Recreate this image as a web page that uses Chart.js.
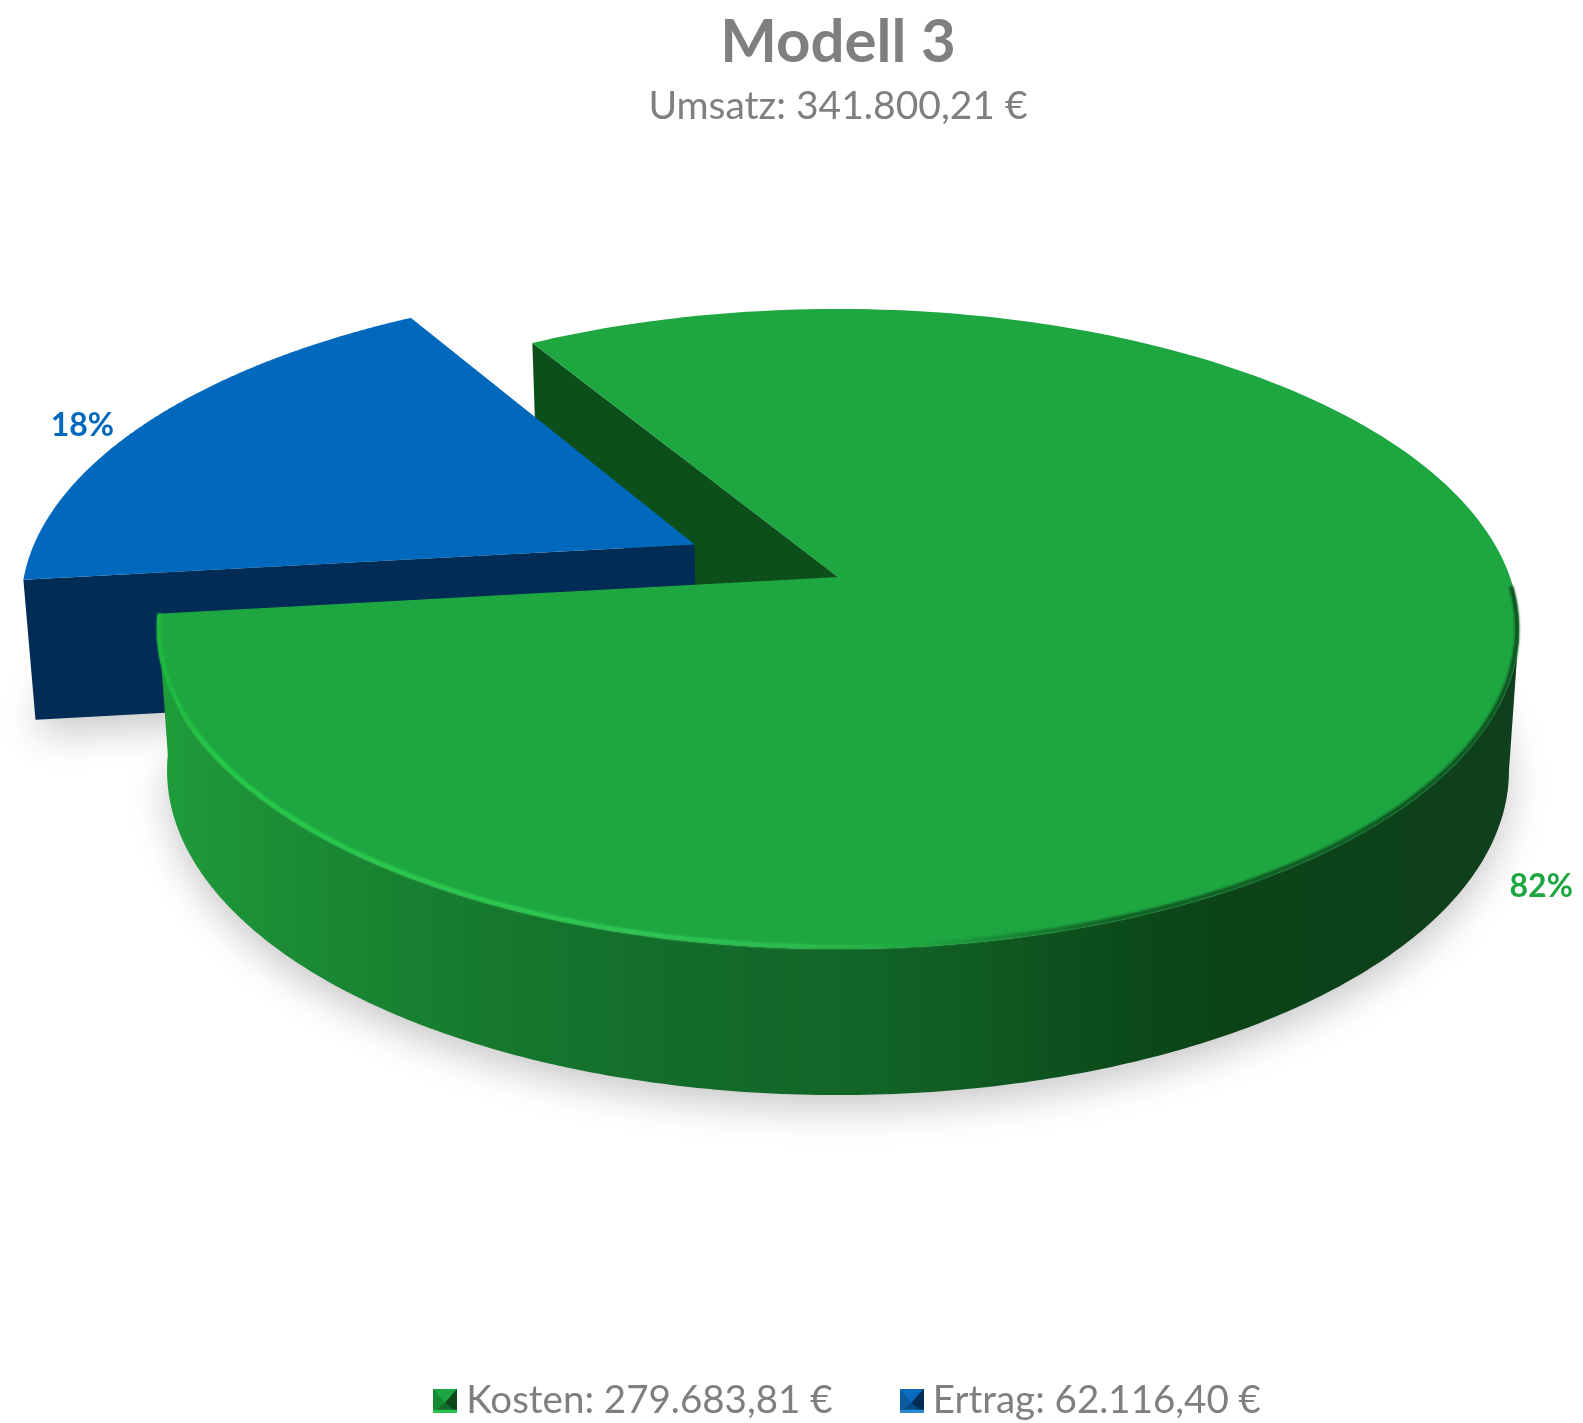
<!DOCTYPE html>
<html lang="de">
<head>
<meta charset="utf-8">
<title>Modell 3</title>
<script src="https://cdn.jsdelivr.net/npm/chart.js@4/dist/chart.umd.js"></script>
<style>
html,body{margin:0;padding:0;background:#fff;overflow:hidden;width:1583px;height:1423px}
canvas{display:block}
</style>
</head>
<body>
<canvas id="c" width="1676" height="1430"></canvas>
<script>
const categories = ['Kosten', 'Ertrag'];
const values = [279683.81, 62116.40];
const valueLabels = ['279.683,81 €', '62.116,40 €'];
const titleText = 'Modell 3';
const subtitleText = 'Umsatz: 341.800,21 €';
const topColors = ['#1ea641', '#0069be'];
const wallColors = ['#0c4f1b', '#002c55'];

// camera of the tilted pie: top face and bottom face of the disc
const TOP_PLANE = {a: 672, b: 311.6, cy: 577, k: 0.1625};
const BOTTOM_PLANE = {a: 662, b: 315.8, cy: 717, k: 0.1625};
const LABEL_SHIFT = [[0.003, 0.415], [-0.106, 0.017]];
const LEGEND_SHIFT = 28;

function project(cx, u, v, p) {
  const w = 1 - p.k * v;
  return [cx + p.a * u / w, p.cy + p.b * v / w];
}
function trace(ctx, pts, move) {
  pts.forEach((q, i) => (i === 0 && move) ? ctx.moveTo(q[0], q[1]) : ctx.lineTo(q[0], q[1]));
}
function rim(el, from, to, du, dv, plane) {
  const pts = [], n = 240;
  for (let i = 0; i <= n; i++) {
    const t = from + (to - from) * i / n;
    pts.push(project(el.x, Math.cos(t) + du, Math.sin(t) + dv, plane));
  }
  return pts;
}
function explodeOf(el) {
  const mid = (el.startAngle + el.endAngle) / 2;
  const e = (el.options.offset || 0) / el.outerRadius;
  return [Math.cos(mid) * e, Math.sin(mid) * e];
}
function sector(ctx, el, plane) {
  const [du, dv] = explodeOf(el);
  const apex = project(el.x, du, dv, plane);
  ctx.beginPath();
  ctx.moveTo(apex[0], apex[1]);
  trace(ctx, rim(el, el.startAngle, el.endAngle, du, dv, plane), false);
  ctx.closePath();
}
function startWall(ctx, el, color) {
  const [du, dv] = explodeOf(el);
  const cu = Math.cos(el.startAngle) + du, cv = Math.sin(el.startAngle) + dv;
  const pts = [project(el.x, du, dv, TOP_PLANE), project(el.x, cu, cv, TOP_PLANE),
               project(el.x, cu, cv, BOTTOM_PLANE), project(el.x, du, dv, BOTTOM_PLANE)];
  ctx.beginPath();
  trace(ctx, pts, true);
  ctx.closePath();
  ctx.fillStyle = color;
  ctx.fill();
}

const pie3d = {
  id: 'pie3d',
  afterLayout(chart) {
    chart.legend.left += LEGEND_SHIFT;
  },
  beforeDatasetDraw(chart) {
    const ctx = chart.ctx;
    const arcs = chart.getDatasetMeta(0).data;
    const [green, blue] = arcs;
    ctx.save();

    // soft floor shadow
    arcs.forEach(el => {
      ctx.save();
      ctx.shadowColor = 'rgba(0,0,0,0.22)';
      ctx.shadowBlur = 38;
      ctx.shadowOffsetY = 14;
      ctx.fillStyle = '#ccc';
      sector(ctx, el, BOTTOM_PLANE);
      ctx.fill();
      ctx.restore();
    });

    startWall(ctx, green, wallColors[0]);
    startWall(ctx, blue, wallColors[1]);
    sector(ctx, blue, TOP_PLANE);
    ctx.fillStyle = blue.options.backgroundColor;
    ctx.fill();

    // curved outer wall of the large slice, from the right-hand silhouette to the cut
    const wallFrom = Math.asin(TOP_PLANE.k), wallTo = green.endAngle;
    const topEdge = rim(green, wallFrom, wallTo, 0, 0, TOP_PLANE);
    const lowEdge = rim(green, wallTo, wallFrom, 0, 0, {...BOTTOM_PLANE, cy: 718});
    const grad = ctx.createLinearGradient(160, 0, 1510, 0);
    [[0, '#1f9c3a'], [0.1, '#1b8b35'], [0.25, '#16782e'], [0.4, '#136b2a'], [0.52, '#126527'],
     [0.62, '#0f5822'], [0.7, '#0c4c1b'], [0.78, '#0b4417'], [1, '#0f3f1c']]
      .forEach(s => grad.addColorStop(s[0], s[1]));
    ctx.beginPath();
    trace(ctx, topEdge, true);
    trace(ctx, lowEdge, false);
    ctx.closePath();
    ctx.fillStyle = grad;
    ctx.fill();

    sector(ctx, green, TOP_PLANE);
    ctx.fillStyle = green.options.backgroundColor;
    ctx.fill();

    // bevel line on the front edge of the disc
    const bevel = ctx.createLinearGradient(156, 0, 1518, 0);
    [[0, '#1fb63d'], [0.05, '#26cc48'], [0.35, '#30c956'], [0.48, '#2cbb4e'], [0.56, '#1ea641'],
     [0.7, '#115f26'], [1, '#0e5321']].forEach(s => bevel.addColorStop(s[0], s[1]));
    ctx.save();
    ctx.filter = 'blur(1px)';
    ctx.beginPath();
    trace(ctx, rim(green, 0.03, wallTo, 0, 0, {...TOP_PLANE, a: TOP_PLANE.a - 2, b: TOP_PLANE.b - 2}), true);
    ctx.strokeStyle = bevel;
    ctx.lineWidth = 4.5;
    ctx.stroke();
    ctx.restore();

    // percentage labels
    const total = values.reduce((s, x) => s + x, 0);
    ctx.font = 'bold 32px Lato';
    ctx.textAlign = 'center';
    ctx.textBaseline = 'middle';
    arcs.forEach((el, i) => {
      const [du, dv] = explodeOf(el);
      const mid = (el.startAngle + el.endAngle) / 2;
      const q = project(el.x, Math.cos(mid) + du + LABEL_SHIFT[i][0], Math.sin(mid) + dv + LABEL_SHIFT[i][1], TOP_PLANE);
      ctx.fillStyle = topColors[i];
      ctx.fillText(Math.round(values[i] / total * 100) + '%', q[0], q[1]);
    });
    ctx.restore();
    return false;
  }
};

function icon(left, top, bottom, right, edge) {
  const c = document.createElement('canvas');
  c.width = 24; c.height = 24;
  const g = c.getContext('2d');
  const tri = (col, pts) => {
    g.fillStyle = col; g.beginPath();
    pts.forEach((p, i) => i ? g.lineTo(p[0], p[1]) : g.moveTo(p[0], p[1]));
    g.closePath(); g.fill();
  };
  const apex = [12, 14];
  g.fillStyle = left; g.fillRect(0, 0, 24, 24);
  tri(top, [[0, 0], [24, 0], apex]);
  tri(bottom, [[0, 24], [24, 24], apex]);
  tri(right, [[24, 0], [24, 24], apex]);
  g.fillStyle = edge; g.fillRect(0, 21, 24, 3);
  return c;
}
const icons = [
  icon('#168a34', '#1ea641', '#126a2b', '#0c4518', '#2bc24d'),
  icon('#0b5aa0', '#0a6cc0', '#004a85', '#002c55', '#2a8ad0')
];

new Chart(document.getElementById('c'), {
  type: 'pie',
  data: {
    labels: categories,
    datasets: [{data: values, backgroundColor: topColors, borderWidth: 0, offset: [0, 126]}]
  },
  options: {
    responsive: false,
    animation: false,
    rotation: -31.2,
    plugins: {
      tooltip: {enabled: false},
      title: {
        display: true, text: titleText, color: '#7f7f7f',
        font: {family: 'Lato', size: 60, weight: 'bold', lineHeight: 1},
        padding: {top: 13, bottom: 14}
      },
      subtitle: {
        display: true, text: subtitleText, color: '#7f7f7f',
        font: {family: 'Lato', size: 39, weight: 'normal', lineHeight: 1},
        padding: {top: 0, bottom: 10}
      },
      legend: {
        position: 'bottom',
        labels: {
          usePointStyle: true, boxWidth: 4, padding: 77, color: '#7f7f7f',
          font: {family: 'Lato', size: 38.5},
          generateLabels() {
            return categories.map((name, i) => ({
              text: name + ': ' + valueLabels[i], pointStyle: icons[i],
              fontColor: '#7f7f7f', lineWidth: 0, hidden: false, index: i
            }));
          }
        }
      }
    }
  },
  plugins: [pie3d]
});
</script>
</body>
</html>
